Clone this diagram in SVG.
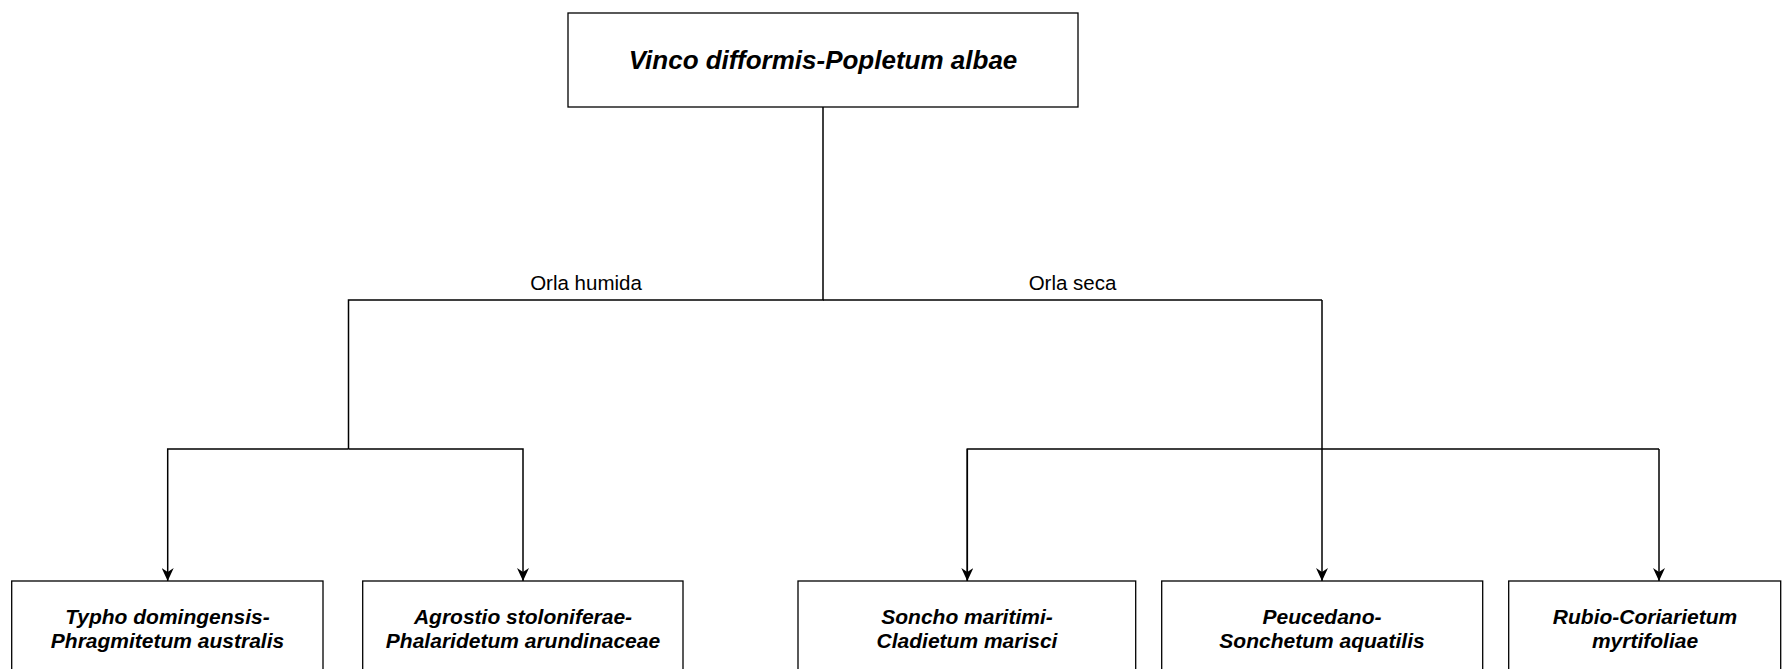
<svg xmlns="http://www.w3.org/2000/svg" width="1789" height="669" viewBox="0 0 1789 669">
<style>
.box{fill:#fff;stroke:#000;stroke-width:1.3}
.edge{fill:none;stroke:#000;stroke-width:1.5}
.t{font-family:"Liberation Sans",Arial,sans-serif;font-weight:bold;font-style:italic;font-size:21px;text-anchor:middle;fill:#000}
.title{font-size:26px}
.lbl{font-family:"Liberation Sans",Arial,sans-serif;font-size:20.5px;text-anchor:middle;fill:#000}
</style>
<defs>
<marker id="arr" viewBox="0 0 14 12" refX="13" refY="6" markerWidth="14" markerHeight="12" markerUnits="userSpaceOnUse" orient="auto">
<path d="M0,0 L13,6 L0,12 L4,6 Z" fill="#000"/>
</marker>
</defs>
<rect width="1789" height="669" fill="#fff"/>
<g id="connectors">
<path class="edge" d="M823,107 V300 H348.5 V449"/>
<path class="edge" d="M823,300 H1322"/>
<path class="edge" d="M348.5,449 H167.7 V581" marker-end="url(#arr)"/>
<path class="edge" d="M348.5,449 H523 V581" marker-end="url(#arr)"/>
<path class="edge" d="M1322,300 V581" marker-end="url(#arr)"/>
<path class="edge" d="M967.3,581 V449 H1659"/>
<path class="edge" d="M967.3,449 V581" marker-end="url(#arr)"/>
<path class="edge" d="M1659,449 V581" marker-end="url(#arr)"/>
<text class="lbl" x="586" y="290">Orla humida</text>
<text class="lbl" x="1072.5" y="290">Orla seca</text>
</g>
<g id="n-root">
<rect class="box" x="568" y="13" width="510" height="94"/>
<text class="t title" x="823" y="69">Vinco difformis-Popletum albae</text>
</g>
<g id="n-typho">
<rect class="box" x="11.7" y="581" width="311.3" height="95"/>
<text class="t" x="167.5" y="624">Typho domingensis-</text>
<text class="t" x="167.5" y="648">Phragmitetum australis</text>
</g>
<g id="n-agrostio">
<rect class="box" x="362.7" y="581" width="320.3" height="95"/>
<text class="t" x="523" y="624">Agrostio stoloniferae-</text>
<text class="t" x="523" y="648">Phalaridetum arundinaceae</text>
</g>
<g id="n-soncho">
<rect class="box" x="798" y="581" width="337.7" height="95"/>
<text class="t" x="967" y="624">Soncho maritimi-</text>
<text class="t" x="967" y="648">Cladietum marisci</text>
</g>
<g id="n-peucedano">
<rect class="box" x="1161.7" y="581" width="321" height="95"/>
<text class="t" x="1322" y="624">Peucedano-</text>
<text class="t" x="1322" y="648">Sonchetum aquatilis</text>
</g>
<g id="n-rubio">
<rect class="box" x="1508.7" y="581" width="272" height="95"/>
<text class="t" x="1645" y="624">Rubio-Coriarietum</text>
<text class="t" x="1645" y="648">myrtifoliae</text>
</g>
</svg>
